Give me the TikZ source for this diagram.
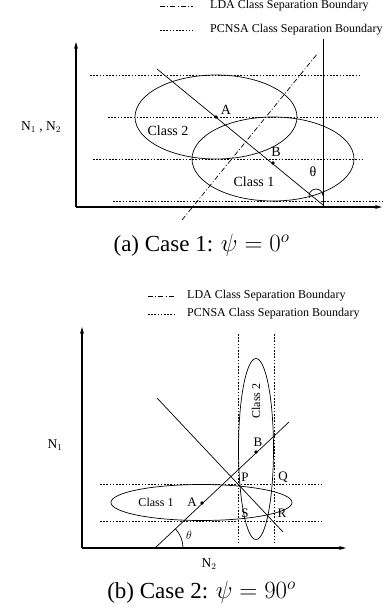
\documentclass[tikz,border=0pt]{standalone}
\usepackage{fontspec}
\setmainfont{Liberation Serif}
\usetikzlibrary{arrows.meta}
\begin{document}
\begin{tikzpicture}[x=1pt,y=-1pt,
  thinline/.style={line width=0.7pt},
  axisline/.style={line width=1.2pt,-{Stealth[length=7pt,width=4pt]}},
  pcnsa/.style={line width=0.7pt,dash pattern=on 1.6pt off 1.6pt},
  lda/.style={line width=0.7pt,dash pattern=on 5pt off 2.2pt on 1pt off 2.2pt},
  legtext/.style={anchor=west,inner sep=0pt,font=\fontsize{12}{14}\selectfont},
  lbl/.style={inner sep=0pt,font=\fontsize{14}{16}\selectfont},
  mlbl/.style={inner sep=0pt,font=\fontsize{13}{15}\selectfont},
  slbl/.style={inner sep=0pt,font=\fontsize{12}{14}\selectfont},
  axlbl/.style={inner sep=0pt,font=\fontsize{13.5}{16}\selectfont},
  captext/.style={inner sep=0pt,font=\fontsize{23}{26}\selectfont},
  dot/.style={circle,fill,inner sep=0pt,minimum size=3.6pt}]
\useasboundingbox (0,0) rectangle (383,613);
% ---------------- top figure ----------------
% legend
\coordinate (la1) at (160,6); \coordinate (la2) at (193,6);
\coordinate (lb1) at (160,30); \coordinate (lb2) at (193,30);
\draw[lda] (la1) -- (la2);
\draw[pcnsa] (lb1) -- (lb2);
\node[legtext] (ltxtA) at (210,6) {LDA Class Separation Boundary};
\node[legtext] (ltxtB) at (210,30) {PCNSA Class Separation Boundary};
% axes
\coordinate (O1) at (76,207); \coordinate (Y1) at (76,42); \coordinate (X1) at (382,207);
\draw[axisline] (O1) -- (Y1);
\draw[axisline] (O1) -- (X1);
% vertical line
\coordinate (V1a) at (323,39); \coordinate (V1b) at (323,206);
\draw[thinline] (V1a) -- (V1b);
% pcnsa dotted horizontals
\coordinate (h1a) at (90,75);   \coordinate (h1b) at (360,75);
\coordinate (h2a) at (108,117); \coordinate (h2b) at (378,117);
\coordinate (h3a) at (93,159);  \coordinate (h3b) at (363,159);
\coordinate (h4a) at (113,201); \coordinate (h4b) at (382,201);
\draw[pcnsa] (h1a) -- (h1b);
\draw[pcnsa] (h2a) -- (h2b);
\draw[pcnsa] (h3a) -- (h3b);
\draw[pcnsa] (h4a) -- (h4b);
% ellipses
\draw[thinline] (216,117) ellipse [x radius=81, y radius=42];
\draw[thinline] (273,159) ellipse [x radius=81, y radius=42];
% diagonal line
\coordinate (D1a) at (157,69); \coordinate (D1b) at (323,205);
\draw[thinline] (D1a) -- (D1b);
% LDA line
\coordinate (L1a) at (182,220); \coordinate (L1b) at (318,53);
\draw[lda] (L1a) -- (L1b);
% dots and labels
\node[dot] (pA1) at (216,117) {};
\node[dot] (pB1) at (273,163) {};
\node[lbl] (tA1) at (226,110) {A};
\node[lbl] (tB1) at (276,152) {B};
\node[lbl] (tC2) at (168,131) {Class 2};
\node[lbl] (tC1) at (254,182) {Class 1};
\node[lbl] (tth1) at (313,172) {θ};
\draw[thinline] (323,196) arc[start angle=0,end angle=-195,radius=7];
\node[axlbl] (tN12) at (41,127) {N$_1$ , N$_2$};
% caption a
\node[captext] (capa) at (201.5,245) {(a) Case 1: $\psi = 0^o$};
% ---------------- bottom figure ----------------
\coordinate (lc1) at (148,296); \coordinate (lc2) at (175,296);
\coordinate (ld1) at (148,314); \coordinate (ld2) at (175,314);
\draw[lda] (lc1) -- (lc2);
\draw[pcnsa] (ld1) -- (ld2);
\node[legtext] (ltxtC) at (187,296) {LDA Class Separation Boundary};
\node[legtext] (ltxtD) at (187,314) {PCNSA Class Separation Boundary};
% axes
\coordinate (O2) at (82,548); \coordinate (Y2) at (82,327); \coordinate (X2) at (346,548);
\draw[axisline] (O2) -- (Y2);
\draw[axisline] (O2) -- (X2);
% dotted verticals and horizontals
\coordinate (v1a) at (238,334); \coordinate (v1b) at (238,543);
\coordinate (v2a) at (274,334); \coordinate (v2b) at (274,543);
\coordinate (g1a) at (100,484); \coordinate (g1b) at (323,484);
\coordinate (g2a) at (100,521); \coordinate (g2b) at (323,521);
\draw[pcnsa] (v1a) -- (v1b);
\draw[pcnsa] (v2a) -- (v2b);
\draw[pcnsa] (g1a) -- (g1b);
\draw[pcnsa] (g2a) -- (g2b);
% ellipses
\draw[thinline] (256,449) ellipse [x radius=17.5, y radius=90.5];
\draw[thinline] (201.5,502.5) ellipse [x radius=90.5, y radius=18];
% lines
\coordinate (E1a) at (157,398); \coordinate (E1b) at (283,532);
\coordinate (E2a) at (155,548); \coordinate (E2b) at (289,422);
\draw[thinline] (E1a) -- (E1b);
\draw[thinline] (E2a) -- (E2b);
\draw[thinline] (183,548) arc[start angle=0,end angle=-43,radius=28];
% dots and labels
\node[dot] (pA2) at (202,503) {};
\node[dot] (pB2) at (256,452) {};
\node[mlbl] (tA2) at (192,502) {A};
\node[mlbl] (tB2) at (258,442) {B};
\node[mlbl] (tP) at (245,477) {P};
\node[mlbl] (tQ) at (283,477) {Q};
\node[mlbl] (tS) at (245,513) {S};
\node[mlbl] (tR) at (282,513) {R};
\node[slbl] (tC1b) at (156,502) {Class 1};
\node[slbl,rotate=90] (tC2b) at (256,401) {Class 2};
\node[slbl] (tth2) at (189,535) {$\theta$};
\node[axlbl] (tN1) at (55,445) {N$_1$};
\node[axlbl] (tN2) at (209,564) {N$_2$};
% caption b
\node[captext] (capb) at (201.5,592) {(b) Case 2: $\psi = 90^o$};
\end{tikzpicture}
\end{document}
